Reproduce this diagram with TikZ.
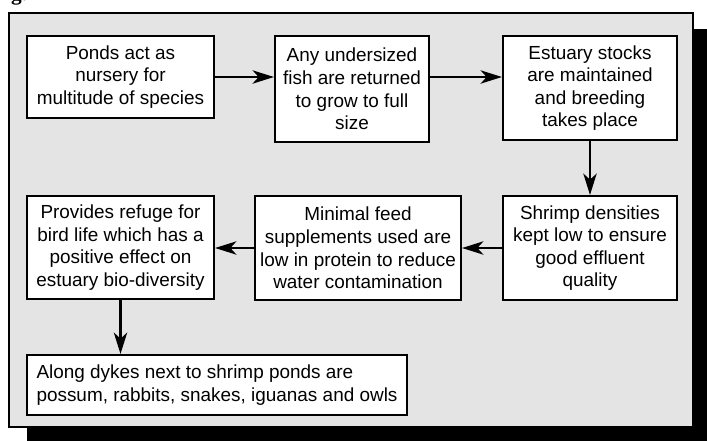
\documentclass[tikz,border=0pt]{standalone}
\usepackage{fontspec}
\setmainfont{Liberation Sans}
\newfontfamily\figfont{Liberation Serif}
\usetikzlibrary{arrows.meta}
\definecolor{panelgrey}{RGB}{228,228,228}
\begin{document}
\begin{tikzpicture}[x=0.75pt,y=-0.75pt,
  stepbox/.style={draw=black, line width=1.6pt, fill=white, align=center, inner sep=0pt,
    font=\fontsize{14.2}{16.9}\selectfont},
  flow/.style={line width=1.6pt, -{Stealth[length=16pt,width=10pt,inset=4.5pt]}}]
\useasboundingbox (0,0) rectangle (707,440);
\node[anchor=base west, inner sep=0pt, font=\figfont\bfseries\fontsize{16}{19}\selectfont] (fig) at (-8,0.5) {Fig. 4};
\fill[black] (27,29) rectangle (712,445);
\draw[line width=1.5pt, fill=panelgrey] (9,13) rectangle (693,427);
\node[stepbox, minimum width=140.25pt, minimum height=61.5pt] (b1) at (120.5,77)
  {Ponds act as\\nursery for\\multitude of species};
\node[stepbox, minimum width=115.5pt, minimum height=79.5pt] (b2) at (352,89)
  {Any undersized\\fish are returned\\to grow to full\\size};
\node[stepbox, minimum width=130.5pt, minimum height=78pt] (b3) at (590,88)
  {Estuary stocks\\are maintained\\and breeding\\takes place};
\node[stepbox, minimum width=130.5pt, minimum height=78pt] (b4) at (590,248)
  {Shrimp densities\\kept low to ensure\\good effluent\\quality};
\node[stepbox, minimum width=154.5pt, minimum height=78pt] (b5) at (358,248)
  {Minimal feed\\supplements used are\\low in protein to reduce\\water contamination};
\node[stepbox, minimum width=140.25pt, minimum height=77.25pt] (b6) at (120.5,247.5)
  {Provides refuge for\\bird life which has a\\positive effect on\\estuary bio-diversity};
\node[stepbox, align=left, minimum width=285pt, minimum height=45pt] (b7) at (217,385)
  {Along dykes next to shrimp ponds are\\possum, rabbits, snakes, iguanas and owls};
\draw[flow] (b1.east) -- (b1.east -| b2.west);
\draw[flow] (b2.east |- b1.east) -- (b3.west |- b1.east);
\draw[flow] (b3.south) -- (b4.north);
\draw[flow] (b4.west) -- (b5.east);
\draw[flow] (b5.west) -- (b5.west -| b6.east);
\draw[flow] (b6.south) -- (b6.south |- b7.north);
\end{tikzpicture}
\end{document}
